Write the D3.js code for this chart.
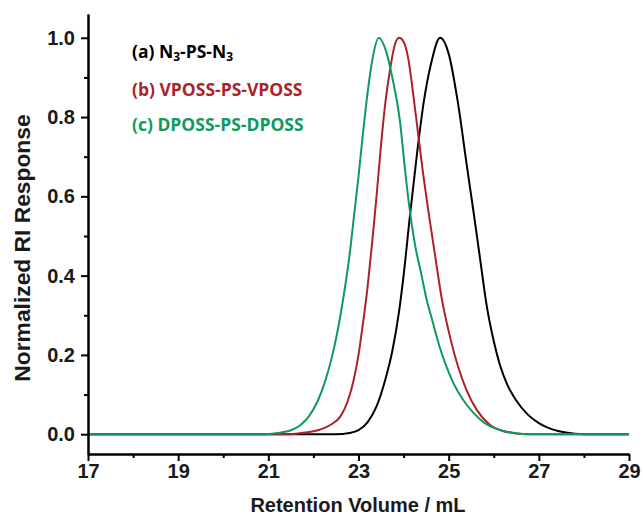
<!DOCTYPE html>
<html>
<head>
<meta charset="utf-8">
<script src="https://cdn.jsdelivr.net/npm/d3@7"></script>
<style>
  html, body { margin: 0; padding: 0; background: #fff; }
  svg { display: block; }
</style>
</head>
<body>
<svg id="chart" width="643" height="519"></svg>
<script>
// ---- data ----
const xTicks = [17, 19, 21, 23, 25, 27, 29];
const xMinorTicks = [18, 20, 22, 24, 26, 28];
const yTicks = [0.0, 0.2, 0.4, 0.6, 0.8, 1.0];
const yMinorTicks = [0.1, 0.3, 0.5, 0.7, 0.9];

const seriesNames = ["(a) N3-PS-N3", "(b) VPOSS-PS-VPOSS", "(c) DPOSS-PS-DPOSS"];

const blackX = [17, 22.5, 22.8, 23.0, 23.2, 23.4, 23.6, 23.75, 23.9, 24.0, 24.14, 24.3, 24.45, 24.6, 24.81, 25.0, 25.2, 25.4, 25.54, 25.7, 25.85, 26.0, 26.15, 26.3, 26.5, 26.75, 27.0, 27.3, 27.6, 28.0, 29];
const blackY = [0, 0, 0.003, 0.01, 0.03, 0.07, 0.14, 0.21, 0.31, 0.40, 0.55, 0.71, 0.84, 0.93, 1.0, 0.96, 0.84, 0.68, 0.57, 0.44, 0.32, 0.235, 0.17, 0.125, 0.085, 0.05, 0.028, 0.012, 0.004, 0, 0];

const redX = [17, 21.5, 21.8, 22.1, 22.4, 22.6, 22.75, 22.9, 23.0, 23.1, 23.2, 23.3, 23.4, 23.5, 23.6, 23.7, 23.8, 23.9, 24.0, 24.1, 24.2, 24.32, 24.43, 24.54, 24.7, 24.85, 25.0, 25.21, 25.4, 25.63, 25.9, 26.2, 26.5, 26.8, 29];
const redY = [0, 0, 0.004, 0.01, 0.025, 0.045, 0.08, 0.14, 0.2, 0.28, 0.37, 0.48, 0.6, 0.73, 0.84, 0.92, 0.98, 1.0, 0.99, 0.95, 0.87, 0.76, 0.66, 0.57, 0.45, 0.34, 0.26, 0.17, 0.11, 0.06, 0.025, 0.008, 0.002, 0, 0];

const greenX = [17, 20.9, 21.2, 21.5, 21.7, 21.9, 22.1, 22.25, 22.4, 22.5, 22.6, 22.7, 22.8, 22.9, 23.0, 23.1, 23.2, 23.3, 23.45, 23.6, 23.75, 23.92, 24.02, 24.12, 24.25, 24.4, 24.5, 24.63, 24.8, 24.92, 25.1, 25.3, 25.54, 25.8, 26.1, 26.4, 26.7, 29];
const greenY = [0, 0, 0.003, 0.01, 0.022, 0.045, 0.085, 0.13, 0.19, 0.24, 0.30, 0.37, 0.45, 0.55, 0.65, 0.76, 0.86, 0.94, 1.0, 0.97, 0.9, 0.79, 0.68, 0.58, 0.48, 0.40, 0.345, 0.29, 0.22, 0.18, 0.13, 0.09, 0.055, 0.028, 0.012, 0.004, 0, 0];

const colors = ["#000000", "#ac2229", "#0e9a5c"];

// ---- layout ----
const svg = d3.select("#chart");
const mLeft = 88, mRight = 629, mTop = 14, mBottom = 454;

const x = d3.scaleLinear().domain([17, 29]).range([mLeft, mRight]);
const y = d3.scaleLinear().domain([-0.05, 1.06]).range([mBottom, mTop]);

const tickFont = "'Liberation Sans', Arial, sans-serif";

// curves
const series = [
  { xs: blackX, ys: blackY, color: colors[0] },
  { xs: redX, ys: redY, color: colors[1] },
  { xs: greenX, ys: greenY, color: colors[2] }
];
const line = d3.line()
  .x(d => x(d[0]))
  .y(d => y(d[1]))
  .curve(d3.curveMonotoneX);

svg.append("g").selectAll("path")
  .data(series)
  .join("path")
  .attr("d", s => line(s.xs.map((v, i) => [v, s.ys[i]])))
  .attr("fill", "none")
  .attr("stroke", s => s.color)
  .attr("stroke-width", 2)
  .attr("stroke-linejoin", "round");

// axes
function styleAxis(g) {
  g.selectAll("path.domain").attr("stroke", "#000").attr("stroke-width", 2);
  g.selectAll(".tick line").attr("stroke", "#000").attr("stroke-width", 2);
  g.selectAll("text").attr("font-family", tickFont).attr("font-weight", "bold")
    .attr("font-size", 20).attr("fill", "#1a1a1a");
}

const yAxis = svg.append("g").attr("transform", `translate(${mLeft},0)`)
  .call(d3.axisLeft(y).tickValues(yTicks).tickFormat(d3.format(".1f")).tickSize(7).tickSizeOuter(0).tickPadding(6));
styleAxis(yAxis);
const yMinor = svg.append("g").attr("transform", `translate(${mLeft},0)`)
  .call(d3.axisLeft(y).tickValues(yMinorTicks).tickFormat("").tickSize(4).tickSizeOuter(0));
styleAxis(yMinor);

const xAxis = svg.append("g").attr("transform", `translate(0,${mBottom})`)
  .call(d3.axisBottom(x).tickValues(xTicks).tickFormat(d3.format("d")).tickSize(7).tickSizeOuter(0).tickPadding(3));
styleAxis(xAxis);
const xMinor = svg.append("g").attr("transform", `translate(0,${mBottom})`)
  .call(d3.axisBottom(x).tickValues(xMinorTicks).tickFormat("").tickSize(4).tickSizeOuter(0));
styleAxis(xMinor);

// axis titles
svg.append("text")
  .attr("x", 358).attr("y", 512)
  .attr("text-anchor", "middle")
  .attr("font-family", tickFont).attr("font-weight", "bold").attr("font-size", 20)
  .attr("fill", "#1a1a1a")
  .text("Retention Volume / mL");

svg.append("text")
  .attr("transform", "translate(30,248) rotate(-90)")
  .attr("text-anchor", "middle")
  .attr("font-family", tickFont).attr("font-weight", "bold").attr("font-size", 22.8)
  .attr("fill", "#1a1a1a")
  .text("Normalized RI Response");

// legend
const legendFont = "'Open Sans', 'Noto Sans', sans-serif";
const legendY = [58, 96, 131];
const leg = svg.append("g").attr("font-family", legendFont).attr("font-weight", 700).attr("font-size", 17.5);

function addLabel(i) {
  const t = leg.append("text").attr("x", 132).attr("y", legendY[i]).attr("fill", colors[i]);
  const name = seriesNames[i];
  const parts = name.split(/(N)(3)/).filter(p => p !== "");
  let sub = false;
  for (let k = 0; k < parts.length; k++) {
    const p = parts[k];
    if (p === "3" && k > 0 && parts[k - 1] === "N") {
      t.append("tspan").attr("font-size", 12).attr("dy", 3).text("3");
      sub = true;
    } else {
      const ts = t.append("tspan").text(p);
      if (sub) { ts.attr("dy", -3); sub = false; }
    }
  }
}
[0, 1, 2].forEach(addLabel);
</script>
</body>
</html>
